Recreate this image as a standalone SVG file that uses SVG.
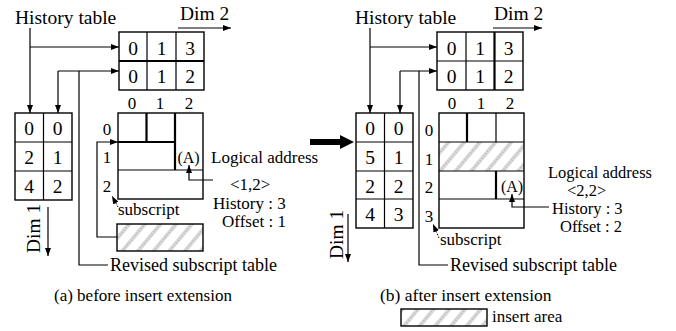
<svg xmlns="http://www.w3.org/2000/svg" width="676" height="331" viewBox="0 0 676 331">
<defs>
<marker id="ah" markerUnits="userSpaceOnUse" markerWidth="8" markerHeight="6" refX="8" refY="3" orient="auto" viewBox="0 0 8 6"><path d="M0,0 L8,3 L0,6 z" fill="#000"/></marker>
<pattern id="hatch" width="12" height="12" patternUnits="userSpaceOnUse" patternTransform="rotate(40)">
<rect width="12" height="12" fill="#fff"/>
<line x1="3" y1="0" x2="3" y2="12" stroke="#dadada" stroke-width="4"/>
<line x1="3" y1="0" x2="3" y2="12" stroke="#9a9a9a" stroke-width="1" stroke-dasharray="1 2"/>
</pattern>
<style>
.t{font-family:"Liberation Serif","Times New Roman",serif;fill:#000}
.h{font-size:19.5px}
.c{font-size:19.5px;text-anchor:middle}
.l{font-size:17px}
.lm{font-size:17px;text-anchor:middle}
.b{fill:none;stroke:#000;stroke-width:1.4}
.k{fill:none;stroke:#000;stroke-width:2.2}
.w{fill:none;stroke:#000;stroke-width:1.2}
.a{fill:none;stroke:#000;stroke-width:1.2;marker-end:url(#ah)}
.d{fill:none;stroke:#000;stroke-width:1;stroke-dasharray:1.5 1.5;marker-end:url(#ah)}
.hr{fill:url(#hatch);stroke:#000;stroke-width:1.4}
</style>
</defs>
<rect width="676" height="331" fill="#fff"/>

<!-- Panel (a) -->
<g id="a-history-label" class="t"><text class="h" x="15" y="24">History table</text></g>
<g id="a-dim2"><text class="t h" x="180" y="20">Dim 2</text><path class="a" d="M178,28 H231"/></g>
<g id="a-history-table">
<rect class="b" x="119" y="32" width="85" height="58"/>
<path class="w" d="M147,32 V90 M176,32 V90"/>
<path class="k" d="M119,61 H204"/>
<g class="t c"><text x="133" y="55">0</text><text x="161.5" y="55">1</text><text x="190" y="55">3</text>
<text x="133" y="83">0</text><text x="161.5" y="83">1</text><text x="190" y="83">2</text></g>
</g>
<g id="a-subscript-table">
<rect class="b" x="15" y="113" width="57" height="87"/>
<path class="w" d="M43.5,113 V200 M15,142 H72 M15,171 H72"/>
<g class="t c"><text x="29" y="135">0</text><text x="57.5" y="135">0</text>
<text x="29" y="164">2</text><text x="57.5" y="164">1</text>
<text x="29" y="193">4</text><text x="57.5" y="193">2</text></g>
</g>
<g id="a-dim1"><text class="t h" transform="translate(40,253) rotate(-90)">Dim 1</text><path class="a" d="M48,207 V256"/></g>
<g id="a-array">
<rect class="b" x="118" y="113" width="85" height="86"/>
<path class="k" d="M146.5,113 V142 M175,113 V170 M118,142 H175"/>
<path class="w" d="M118,170 H203"/>
<g class="t lm"><text x="132" y="109">0</text><text x="160" y="109">1</text><text x="189" y="109">2</text>
<text x="107" y="135">0</text><text x="107" y="163">1</text><text x="107" y="192">2</text></g>
<text class="t" x="188.5" y="163" font-size="16" text-anchor="middle">(A)</text>
</g>
<g id="a-revised"><rect class="hr" x="117" y="224" width="86" height="27"/></g>
<g id="a-logical" class="t l">
<text x="211" y="163">Logical address</text>
<text x="230" y="190">&lt;1,2&gt;</text>
<text x="213" y="209">History : 3</text>
<text x="222" y="227">Offset : 1</text>
</g>
<g id="a-labels" class="t l">
<text x="118" y="215">subscript</text>
<text x="110" y="271" font-size="18">Revised subscript table</text>
<text x="54" y="301">(a) before insert extension</text>
</g>

<!-- Big arrow -->
<g id="transition"><path d="M310,139 H340 V135 L354,142 L340,149 V145 H310 Z" fill="#000"/></g>

<!-- Panel (b) -->
<g id="b-history-label" class="t"><text class="h" x="355" y="24">History table</text></g>
<g id="b-dim2"><text class="t h" x="494" y="20">Dim 2</text><path class="a" d="M493,28 H542"/></g>
<g id="b-history-table">
<rect class="b" x="437" y="32" width="86" height="58"/>
<path class="w" d="M466,32 V90 M437,61 H523"/>
<path class="k" d="M494.5,32 V90"/>
<g class="t c"><text x="451.5" y="55">0</text><text x="480" y="55">1</text><text x="508.5" y="55">3</text>
<text x="451.5" y="83">0</text><text x="480" y="83">1</text><text x="508.5" y="83">2</text></g>
</g>
<g id="b-subscript-table">
<rect class="b" x="356" y="113" width="57" height="115"/>
<path class="w" d="M384.5,113 V228 M356,142 H413 M356,171 H413 M356,199 H413"/>
<g class="t c"><text x="370" y="135">0</text><text x="398.5" y="135">0</text>
<text x="370" y="164">5</text><text x="398.5" y="164">1</text>
<text x="370" y="193">2</text><text x="398.5" y="193">2</text>
<text x="370" y="221">4</text><text x="398.5" y="221">3</text></g>
</g>
<g id="b-dim1"><text class="t h" transform="translate(343,259) rotate(-90)">Dim 1</text><path class="a" d="M348,214 V262"/></g>
<g id="b-array">
<rect x="439" y="142" width="85" height="29" fill="url(#hatch)"/>
<rect class="b" x="439" y="113" width="85" height="115"/>
<path class="k" d="M467,113 V142 M496,171 V199"/>
<path class="w" d="M496,113 V142 M439,142 H524 M439,171 H524 M439,199 H524"/>
<g class="t lm"><text x="452" y="109">0</text><text x="481" y="109">1</text><text x="510" y="109">2</text>
<text x="429" y="136">0</text><text x="429" y="165">1</text><text x="429" y="193">2</text><text x="429" y="222">3</text></g>
<text class="t" x="512" y="192" font-size="16" text-anchor="middle">(A)</text>
</g>
<g id="b-logical" class="t" font-size="16.5">
<text x="548" y="178">Logical address</text>
<text x="567" y="196">&lt;2,2&gt;</text>
<text x="552" y="214">History : 3</text>
<text x="560" y="232">Offset : 2</text>
</g>
<g id="b-labels" class="t l">
<text x="440" y="245">subscript</text>
<text x="450" y="271" font-size="18">Revised subscript table</text>
<text x="380" y="301" font-size="17.5">(b) after insert extension</text>
</g>
<g id="legend">
<rect class="hr" x="401" y="309" width="86" height="17" stroke-width="1.2"/>
<text class="t l" x="492" y="322">insert area</text>
</g>

<g id="connectors">
<path class="a" d="M30,28 V113"/>
<path class="a" d="M30,47 H119"/>
<path class="a" d="M58,71 H119"/>
<path class="a" d="M58,71 V113"/>
<path class="w" d="M79,71 V265 H108"/>
<path class="a" d="M117,237 H97 V142 H118"/>
<path class="d" d="M118,207 L112,196"/>
<path class="a" d="M213,180 H189 V165"/>
<path class="a" d="M370,28 V113"/>
<path class="a" d="M370,47 H437"/>
<path class="a" d="M400,71 H437"/>
<path class="a" d="M400,71 V113"/>
<path class="w" d="M419,71 V265 H448"/>
<path class="d" d="M439,238 L433,224"/>
<path class="a" d="M549,207 H512 V194"/>
</g>
</svg>
